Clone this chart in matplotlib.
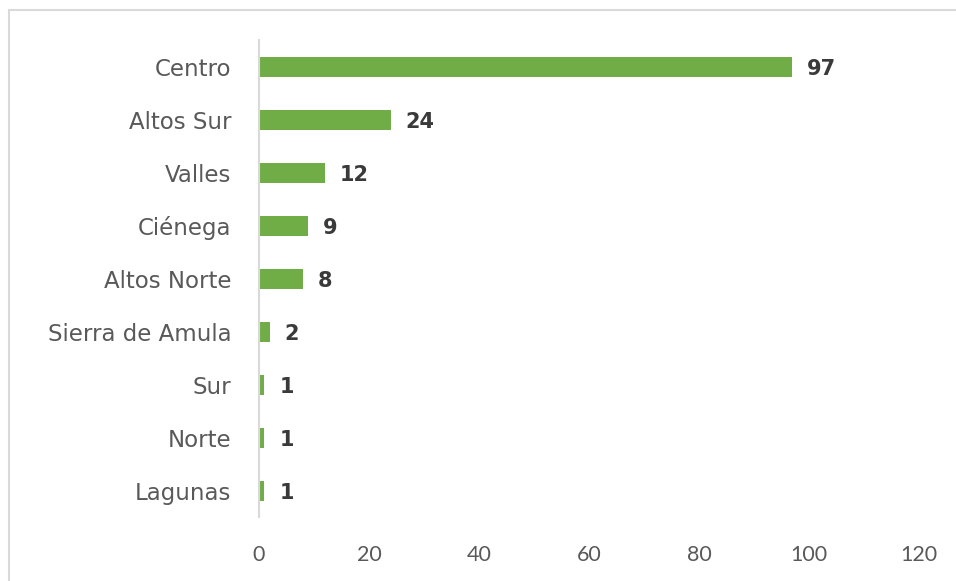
import matplotlib.pyplot as plt
from matplotlib.patches import Rectangle

regions = ['Centro', 'Altos Sur', 'Valles', 'Ciénega', 'Altos Norte',
           'Sierra de Amula', 'Sur', 'Norte', 'Lagunas']
counts = [97, 24, 12, 9, 8, 2, 1, 1, 1]
x_ticks = [0, 20, 40, 60, 80, 100, 120]

plt.rcParams['font.family'] = ['DejaVu Sans']

fig = plt.figure(figsize=(9.56, 5.81), dpi=100)
ax = fig.add_axes([0.2709, 0.1093, 0.6904, 0.8210])

# outer frame of the chart
fig.patches.append(Rectangle((9 / 956, -0.01), 1.0, 1 - 10 / 581 + 0.01,
                             transform=fig.transFigure, fill=False,
                             edgecolor='#d9d9d9', linewidth=1.5))

ypos = list(range(len(regions)))[::-1]
ax.barh(ypos, counts, height=0.36, color='#70ad47')

for y, v in zip(ypos, counts):
    ax.text(v + 2.7, y - 0.03, str(v), va='center', ha='left', fontsize=15,
            fontweight='bold', color='#3a3a3a')

ax.set_xlim(0, 120)
ax.set_ylim(-0.5, len(regions) - 0.5)
ax.set_xticks(x_ticks)
ax.set_xticklabels([str(t) for t in x_ticks], family='Lato')
ax.set_yticks(ypos)
ax.set_yticklabels(regions)

ax.tick_params(axis='x', length=0, pad=20, labelsize=15.5, labelcolor='#595959')
ax.tick_params(axis='y', length=0, pad=20, labelsize=16.5, labelcolor='#595959')

for side in ['top', 'right', 'bottom']:
    ax.spines[side].set_visible(False)
ax.spines['left'].set_color('#d9d9d9')
ax.spines['left'].set_linewidth(1.5)

fig.savefig('out.png', dpi=100)
